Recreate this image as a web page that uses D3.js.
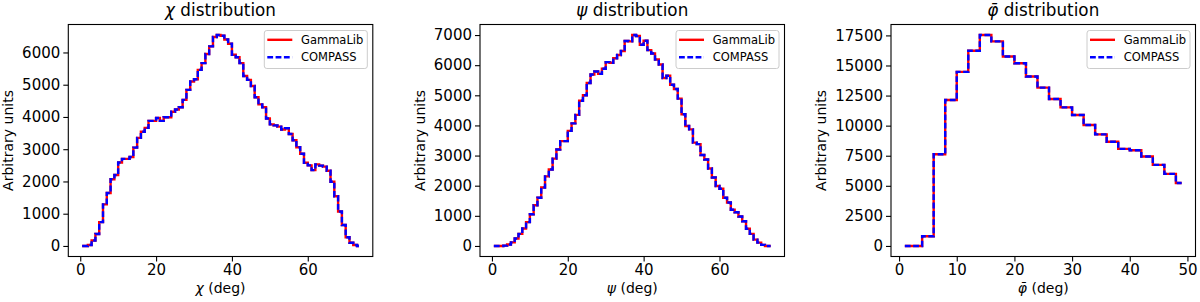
<!DOCTYPE html>
<html>
<head>
<meta charset="utf-8">
<script src="https://cdn.jsdelivr.net/npm/d3@7"></script>
<style>
  body { margin: 0; background: #fff; }
  svg { display: block; font-family: "DejaVu Sans", sans-serif; }
</style>
</head>
<body>
<div class="chart"></div>
<script>
// bin centres (1 deg bins for chi / psi, 2 deg bins for phi bar)
const chiBins = d3.range(0.5, 74, 1);
const psiBins = d3.range(0.5, 74, 1);
const phiBins = d3.range(1, 50, 2);

// counts
const chiCounts = [
  0, 0, 30, 170, 370, 740, 1290, 1640, 2070, 2200,
  2590, 2700, 2700, 2760, 3050, 3350, 3540, 3660, 3880, 3880,
  3970, 3880, 3990, 3990, 4160, 4230, 4300, 4530, 4840, 5100,
  5170, 5460, 5670, 5950, 6190, 6480, 6540, 6520, 6400, 6270,
  5930, 5850, 5670, 5270, 5150, 4960, 4610, 4390, 4300, 3950,
  3770, 3740, 3700, 3610, 3650, 3470, 3280, 3060, 2860, 2580,
  2500, 2350, 2530, 2490, 2460, 2330, 1990, 1540, 1070, 650,
  270, 100, 30, 0
];
const psiCounts = [
  0, 0, 0, 10, 50, 120, 245, 400, 580, 790,
  1050, 1350, 1600, 1940, 2310, 2540, 2900, 3200, 3480, 3480,
  3820, 4070, 4350, 4820, 5000, 5410, 5690, 5790, 5710, 5880,
  6100, 6080, 6230, 6340, 6470, 6800, 6790, 7000, 6970, 6680,
  6810, 6500, 6390, 6190, 6020, 5575, 5650, 5350, 5210, 4890,
  4370, 3980, 3870, 3430, 3380, 3020, 2870, 2570, 2270, 1990,
  1900, 1600, 1440, 1200, 1120, 980, 820, 570, 400, 210,
  110, 35, 0, 0
];
const phiCounts = [
  0, 0, 810, 7620, 12130, 14470, 16220, 17530, 17000, 15750,
  15190, 14080, 13160, 12210, 11520, 10880, 10050, 9270, 8660, 8070,
  7960, 7430, 6740, 5990, 5230
];

const titles = ["χ distribution", "ψ distribution", "φ̄ distribution"];
const xLabels = ["χ (deg)", "ψ (deg)", "φ̄ (deg)"];
const seriesNames = ["GammaLib", "COMPASS"];
const xTicks = [[0, 20, 40, 60], [0, 20, 40, 60], [0, 10, 20, 30, 40, 50]];
const yTicks = [d3.range(0, 7000, 1000), d3.range(0, 8000, 1000), d3.range(0, 20000, 2500)];

const panels = [
  { bins: chiBins, counts: chiCounts },
  { bins: psiBins, counts: psiCounts },
  { bins: phiBins, counts: phiCounts }
];

const width = 1200, height = 302;
const plotW = 304.5, plotTop = 24.5, plotBottom = 256.5;
const lefts = [68.3, 480, 891];
const dash = '5.8,2.5';

const svg = d3.select('.chart')
  .append('svg')
  .attr('width', width)
  .attr('height', height);

// matplotlib style autoscale: 5% margins
const padded = ext => {
  const r = ext[1] - ext[0];
  return [ext[0] - 0.05 * r, ext[1] + 0.05 * r];
};

panels.forEach((p, i) => {
  const x0 = lefts[i];
  const g = svg.append('g').attr('transform', `translate(${x0}, 0)`);

  const xScale = d3.scaleLinear()
    .domain(padded(d3.extent(p.bins)))
    .range([0, plotW]);
  const yScale = d3.scaleLinear()
    .domain(padded([0, d3.max(p.counts)]))
    .range([plotBottom, plotTop]);

  const pts = p.bins.map((b, k) => [b, p.counts[k]]);
  const step = d3.line()
    .x(d => xScale(d[0]))
    .y(d => yScale(d[1]))
    .curve(d3.curveStep);

  g.append('path')
    .attr('d', step(pts))
    .attr('fill', 'none')
    .attr('stroke', '#ff0000')
    .attr('stroke-width', 2.4);

  g.append('path')
    .attr('d', step(pts))
    .attr('fill', 'none')
    .attr('stroke', '#0000ff')
    .attr('stroke-width', 2.4)
    .attr('stroke-dasharray', dash);

  // frame
  g.append('rect')
    .attr('x', 0).attr('y', plotTop)
    .attr('width', plotW).attr('height', plotBottom - plotTop)
    .attr('fill', 'none')
    .attr('stroke', '#000')
    .attr('stroke-width', 1.1);

  const xAxis = g.append('g')
    .attr('transform', `translate(0, ${plotBottom})`)
    .call(d3.axisBottom(xScale).tickValues(xTicks[i]).tickSize(5).tickPadding(3).tickSizeOuter(0).tickFormat(d3.format('d')));
  const yAxis = g.append('g')
    .call(d3.axisLeft(yScale).tickValues(yTicks[i]).tickSize(5).tickPadding(3).tickSizeOuter(0).tickFormat(d3.format('d')));

  [xAxis, yAxis].forEach(a => {
    a.select('.domain').remove();
    a.selectAll('line').attr('stroke', '#000').attr('stroke-width', 1.1);
    a.selectAll('text').attr('fill', '#000').style('font-size', '15px').style('font-family', '"DejaVu Sans"');
  });

  // title, symbol in italic
  const tParts = titles[i].split(' ');
  const title = g.append('text')
    .attr('x', plotW / 2)
    .attr('y', 16)
    .attr('text-anchor', 'middle')
    .style('font-size', '16.8px');
  title.append('tspan').style('font-style', 'italic').text(tParts[0]);
  title.append('tspan').text(' ' + tParts.slice(1).join(' '));

  // x label
  const xParts = xLabels[i].split(' ');
  const xLab = g.append('text')
    .attr('x', plotW / 2)
    .attr('y', 293)
    .attr('text-anchor', 'middle')
    .style('font-size', '14px');
  xLab.append('tspan').style('font-style', 'italic').text(xParts[0]);
  xLab.append('tspan').text(' ' + xParts[1]);

  // y label, placed left of the widest tick label
  const tickLeft = d3.min(yAxis.selectAll('text').nodes(), n => n.getBBox().x);
  const lx = tickLeft - 5.5 - 3.3;
  g.append('text')
    .attr('transform', `translate(${lx}, ${(plotTop + plotBottom) / 2}) rotate(-90)`)
    .attr('text-anchor', 'middle')
    .style('font-size', '14px')
    .text('Arbitrary units');

  // legend
  const lw = 103, lh = 38;
  const leg = g.append('g')
    .attr('transform', `translate(${plotW - 5.5 - lw}, ${plotTop + 6})`);
  leg.append('rect')
    .attr('width', lw).attr('height', lh)
    .attr('rx', 2.5)
    .attr('fill', '#fff').attr('fill-opacity', 0.8)
    .attr('stroke', '#cccccc').attr('stroke-width', 1);
  seriesNames.forEach((name, k) => {
    const cy = 9.3 + k * 17.4;
    leg.append('line')
      .attr('x1', 3).attr('x2', 28)
      .attr('y1', cy).attr('y2', cy)
      .attr('stroke', k === 0 ? '#ff0000' : '#0000ff')
      .attr('stroke-width', 2.4)
      .attr('stroke-dasharray', k === 0 ? null : dash);
    leg.append('text')
      .attr('x', 36.7)
      .attr('y', cy + 4)
      .style('font-size', '11.5px')
      .text(name);
  });
});
</script>
</body>
</html>
